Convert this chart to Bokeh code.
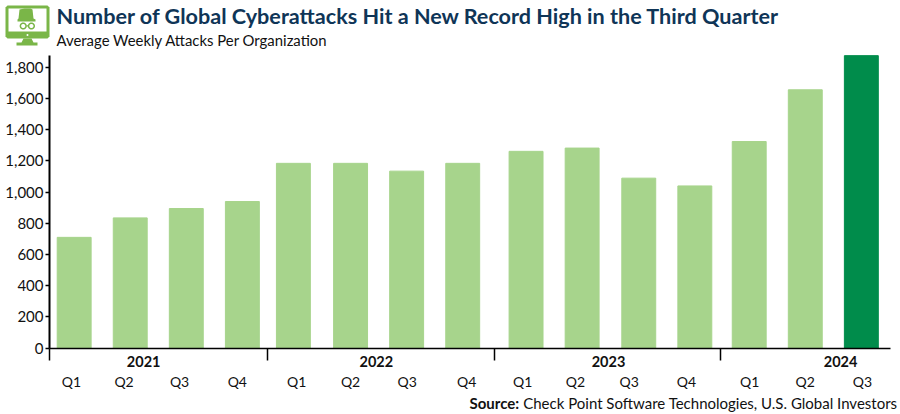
import math
from bokeh.embed import file_html
from bokeh.resources import INLINE
from bokeh.plotting import figure
from bokeh.models import ColumnDataSource, FixedTicker, LinearAxis, Label, Range1d, NumeralTickFormatter, PolyAnnotation

# Quarter labels, values, and bar positions in "quarters from axis start" (the source axis is date-like and uneven)
quarters = ["Q1 2021","Q2 2021","Q3 2021","Q4 2021","Q1 2022","Q2 2022","Q3 2022","Q4 2022",
            "Q1 2023","Q2 2023","Q3 2023","Q4 2023","Q1 2024","Q2 2024","Q3 2024"]
attacks = [710, 835, 895, 940, 1185, 1185, 1135, 1185, 1262, 1283, 1090, 1040, 1325, 1657, 1876]
bar_pos = [0.44, 1.44, 2.44, 3.44, 4.35, 5.37, 6.37, 7.37, 8.50, 9.50, 10.51, 11.51, 12.48, 13.48, 14.48]
bar_colors = ["#A7D48C"] * 14 + ["#008C4B"]

q_labels = ["Q1","Q2","Q3","Q4","Q1","Q2","Q3","Q4","Q1","Q2","Q3","Q4","Q1","Q2","Q3"]
q_label_pos = [0.39, 1.33, 2.32, 3.35, 4.41, 5.37, 6.38, 7.44, 8.44, 9.38, 10.34, 11.36, 12.49, 13.48, 14.50]
years = ["2021","2022","2023","2024"]
year_pos = [1.68, 5.83, 9.97, 14.11]
separators = [0.0, 3.89, 7.94, 11.97]

W, H = 900, 414
# plot area inside the canvas (the frame fills the canvas so that texts around the plot are not clipped)
L, R, T, B = 49, 890, 55, 347.5
X_MAX, Y_MAX = 15, 1877
ux = (R - L) / X_MAX
uy = (B - T) / Y_MAX
BODY = "Lato"
p = figure(width=W, height=H, output_backend="svg", toolbar_location=None,
           x_range=Range1d(-L / ux, X_MAX + (W - R) / ux),
           y_range=Range1d(-(H - B) / uy, Y_MAX + T / uy),
           min_border=0, outline_line_color=None,
           background_fill_color="white", border_fill_color="white",
           x_axis_location=None, y_axis_location=None)
p.grid.visible = False

src = ColumnDataSource(dict(x=bar_pos, top=attacks, color=bar_colors, q=quarters))
p.vbar(x="x", top="top", bottom=0, width=0.605, color="color", source=src)

ya = LinearAxis(ticker=FixedTicker(ticks=[0,200,400,600,800,1000,1200,1400,1600,1800]),
                formatter=NumeralTickFormatter(format="0,0"), fixed_location=0, bounds=(0, Y_MAX))
ya.major_label_text_font = BODY
ya.major_label_text_font_size = "15px"
ya.major_label_text_color = "#111111"
ya.major_tick_in = 0
ya.major_tick_out = 4
ya.major_tick_line_width = 1.5
ya.major_tick_line_color = "black"
ya.minor_tick_line_color = None
ya.axis_line_width = 2
ya.axis_line_color = "black"
ya.major_label_standoff = 2
p.add_layout(ya, "left")

yr = LinearAxis(ticker=FixedTicker(ticks=year_pos, minor_ticks=separators),
                major_label_overrides=dict(zip(year_pos, years)), fixed_location=0, bounds=(0, X_MAX))
yr.major_label_text_font = BODY
yr.major_label_text_font_style = "bold"
yr.major_label_text_font_size = "14.5px"
yr.major_label_text_color = "#111111"
yr.major_tick_in = 0
yr.major_tick_out = 0
yr.minor_tick_in = 0
yr.minor_tick_out = 12
yr.minor_tick_line_width = 1.5
yr.minor_tick_line_color = "black"
yr.axis_line_width = 1.5
yr.axis_line_color = "black"
yr.major_label_standoff = -4
p.add_layout(yr, "below")

qa = LinearAxis(ticker=FixedTicker(ticks=q_label_pos),
                major_label_overrides=dict(zip(q_label_pos, q_labels)), fixed_location=0, bounds=(0, X_MAX))
qa.major_label_text_font = BODY
qa.major_label_text_font_size = "14px"
qa.major_label_text_color = "#111111"
qa.major_tick_line_color = None
qa.minor_tick_line_color = None
qa.axis_line_color = None
qa.major_label_standoff = 19
p.add_layout(qa, "below")

def sy(py):
    return H - py

for txt, xx, yy, sz, col, st, al in [
    ("Number of Global Cyberattacks Hit a New Record High in the Third Quarter", 56, 15, "21.6px", "#0F3557", "bold", "left"),
    ("Average Weekly Attacks Per Organization", 56, 39, "14.9px", "#111111", "normal", "left"),
    ("Source:", 469, 402, "15px", "#111111", "bold", "left"),
    ("Check Point Software Technologies, U.S. Global Investors", 897, 402, "15px", "#111111", "normal", "right"),
]:
    p.add_layout(Label(x=xx, y=sy(yy), x_units="screen", y_units="screen", text=txt,
                       text_font=BODY, text_font_size=sz, text_color=col,
                       text_font_style=st, text_align=al, text_baseline="middle"))

# Monitor-and-spy icon
GREEN, WHITE = "#7AB648", "#FFFFFF"
def poly(pts, color):
    p.add_layout(PolyAnnotation(xs=[a for a, b in pts], ys=[sy(b) for a, b in pts],
                                xs_units="screen", ys_units="screen",
                                fill_color=color, fill_alpha=1, line_color=None))
def circle(cx, cy, r, color):
    poly([(cx + r*math.cos(i*math.pi/12), cy + r*math.sin(i*math.pi/12)) for i in range(24)], color)

poly([(7,5),(47,5),(49,7),(49,36),(47,38),(7,38),(5,36),(5,7)], GREEN)   # screen body
poly([(8,8),(46,8),(46,31),(8,31)], WHITE)                                # screen face
circle(27, 34.5, 1, WHITE)
poly([(23,38),(31,38),(33,42),(37,42),(37,45),(16,45),(16,42),(21,42)], GREEN)  # stand
poly([(19,9),(24,8),(30,8),(32,9),(33,18),(35,19),(35,21),(17,21),(17,19),(18,18)], GREEN)  # hat
circle(22.7, 25.5, 3.6, GREEN); circle(22.7, 25.5, 2.1, WHITE)
circle(30.9, 25.5, 3.6, GREEN); circle(30.9, 25.5, 2.1, WHITE)
poly([(26,24.7),(27.6,24.7),(27.6,26),(26,26)], GREEN)

open("out.html", "w").write(file_html(p, INLINE))
